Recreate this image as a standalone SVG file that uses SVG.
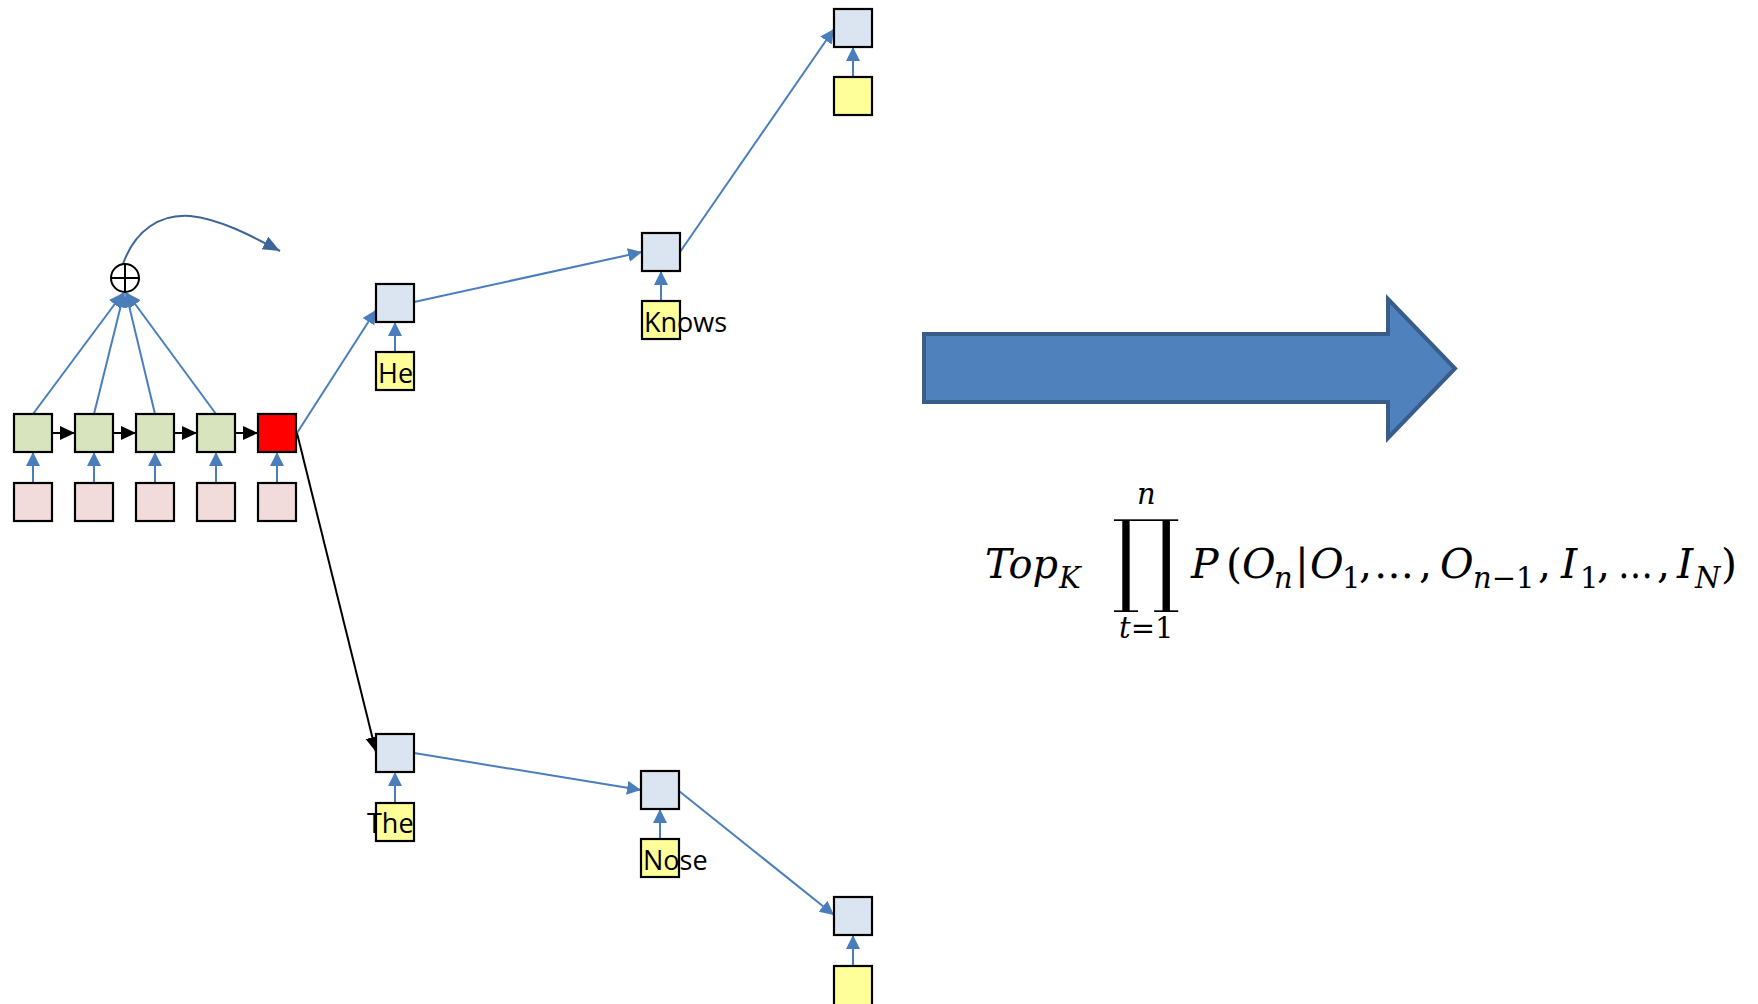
<svg xmlns="http://www.w3.org/2000/svg" width="1758" height="1004" viewBox="0 0 1758 1004">
<defs>
<style>
.box{stroke:#000;stroke-width:2.2}
.enc{fill:#d7e4bd}
.emb{fill:#f2dcdb}
.dec{fill:#dbe5f1}
.inp{fill:#ffff99}
.red{fill:#ff0000}
.bl{stroke:#4a7ebb;stroke-width:2;fill:none}
.bk{stroke:#000;stroke-width:2;fill:none}
.lbl{font-family:"Open Sans","Liberation Sans",sans-serif;font-size:27px;fill:#000}
.m{font-family:"DejaVu Serif","Liberation Serif",serif;font-size:41px;fill:#000}
.s{font-family:"DejaVu Serif","Liberation Serif",serif;font-size:29px;fill:#000}
.i{font-style:italic}
</style>
<marker id="ab" markerUnits="userSpaceOnUse" markerWidth="16" markerHeight="16" refX="14" refY="7" orient="auto"><path d="M0,0 L14,7 L0,14 z" fill="#4a7ebb"/></marker>
<marker id="ak" markerUnits="userSpaceOnUse" markerWidth="16" markerHeight="16" refX="15" refY="7" orient="auto"><path d="M0,0 L15,7 L0,14 z" fill="#000"/></marker>
<marker id="ad" markerUnits="userSpaceOnUse" markerWidth="18" markerHeight="16" refX="17" refY="7" orient="auto"><path d="M0,0 L17,7 L0,14 z" fill="#3b6696"/></marker>
</defs>
<rect width="1758" height="1004" fill="#fff"/>

<g id="connectors">
<line class="bl" x1="33" y1="483" x2="33" y2="452" marker-end="url(#ab)"/>
<line class="bl" x1="94" y1="483" x2="94" y2="452" marker-end="url(#ab)"/>
<line class="bl" x1="155" y1="483" x2="155" y2="452" marker-end="url(#ab)"/>
<line class="bl" x1="216" y1="483" x2="216" y2="452" marker-end="url(#ab)"/>
<line class="bl" x1="277" y1="483" x2="277" y2="452" marker-end="url(#ab)"/>
<line class="bk" x1="52" y1="433" x2="75" y2="433" marker-end="url(#ak)"/>
<line class="bk" x1="113" y1="433" x2="136" y2="433" marker-end="url(#ak)"/>
<line class="bk" x1="174" y1="433" x2="197" y2="433" marker-end="url(#ak)"/>
<line class="bk" x1="235" y1="433" x2="258" y2="433" marker-end="url(#ak)"/>
<line class="bl" x1="33" y1="414" x2="123" y2="293" marker-end="url(#ab)"/>
<line class="bl" x1="94" y1="414" x2="124" y2="293" marker-end="url(#ab)"/>
<line class="bl" x1="155" y1="414" x2="126" y2="293" marker-end="url(#ab)"/>
<line class="bl" x1="216" y1="414" x2="127" y2="293" marker-end="url(#ab)"/>
<path d="M123,264 C135,230 160,214 190,216 C220,219 252,236 280,251" stroke="#3b6696" stroke-width="2" fill="none" marker-end="url(#ad)"/>
<line class="bl" x1="297" y1="433" x2="376" y2="310" marker-end="url(#ab)"/>
<line class="bk" x1="297" y1="433" x2="376" y2="752" marker-end="url(#ak)"/>
<line class="bl" x1="414" y1="302" x2="642" y2="252" marker-end="url(#ab)"/>
<line class="bl" x1="680" y1="252" x2="834" y2="29" marker-end="url(#ab)"/>
<line class="bl" x1="414" y1="753" x2="641" y2="790" marker-end="url(#ab)"/>
<line class="bl" x1="679" y1="791" x2="834" y2="915" marker-end="url(#ab)"/>
<line class="bl" x1="395" y1="352" x2="395" y2="322" marker-end="url(#ab)"/>
<line class="bl" x1="661" y1="301" x2="661" y2="271" marker-end="url(#ab)"/>
<line class="bl" x1="853" y1="77" x2="853" y2="47" marker-end="url(#ab)"/>
<line class="bl" x1="395" y1="803" x2="395" y2="772" marker-end="url(#ab)"/>
<line class="bl" x1="660" y1="839" x2="660" y2="809" marker-end="url(#ab)"/>
<line class="bl" x1="853" y1="966" x2="853" y2="935" marker-end="url(#ab)"/>
</g>

<g id="enc1"><rect class="box enc" x="14" y="414" width="38" height="38"/></g>
<g id="enc2"><rect class="box enc" x="75" y="414" width="38" height="38"/></g>
<g id="enc3"><rect class="box enc" x="136" y="414" width="38" height="38"/></g>
<g id="enc4"><rect class="box enc" x="197" y="414" width="38" height="38"/></g>
<g id="enc5"><rect class="box red" x="258" y="414" width="38" height="38"/></g>
<g id="emb1"><rect class="box emb" x="14" y="483" width="38" height="38"/></g>
<g id="emb2"><rect class="box emb" x="75" y="483" width="38" height="38"/></g>
<g id="emb3"><rect class="box emb" x="136" y="483" width="38" height="38"/></g>
<g id="emb4"><rect class="box emb" x="197" y="483" width="38" height="38"/></g>
<g id="emb5"><rect class="box emb" x="258" y="483" width="38" height="38"/></g>

<g id="sum">
<circle cx="125" cy="278" r="14" fill="#fff" stroke="#000" stroke-width="2"/>
<line x1="111" y1="278" x2="139" y2="278" stroke="#000" stroke-width="2"/>
<line x1="125" y1="264" x2="125" y2="292" stroke="#000" stroke-width="2"/>
</g>

<g id="he"><rect class="box dec" x="376" y="284" width="38" height="38"/></g>
<g id="he-in"><rect class="box inp" x="376" y="352" width="38" height="38"/><text class="lbl" x="378" y="383">He</text></g>
<g id="knows"><rect class="box dec" x="642" y="233" width="38" height="38"/></g>
<g id="knows-in"><rect class="box inp" x="642" y="301" width="38" height="38"/><text class="lbl" x="644" y="332">Knows</text></g>
<g id="top3"><rect class="box dec" x="834" y="9" width="38" height="38"/></g>
<g id="top3-in"><rect class="box inp" x="834" y="77" width="38" height="38"/></g>

<g id="the"><rect class="box dec" x="376" y="734" width="38" height="38"/></g>
<g id="the-in"><rect class="box inp" x="376" y="803" width="38" height="38"/><text class="lbl" x="367" y="833">The</text></g>
<g id="nose"><rect class="box dec" x="641" y="771" width="38" height="38"/></g>
<g id="nose-in"><rect class="box inp" x="641" y="839" width="38" height="38"/><text class="lbl" x="643" y="870">Nose</text></g>
<g id="bot3"><rect class="box dec" x="834" y="897" width="38" height="38"/></g>
<g id="bot3-in"><rect class="box inp" x="834" y="966" width="38" height="40"/></g>

<g id="big-arrow">
<path d="M924,334 L1388,334 L1388,299 L1455,368.5 L1388,438 L1388,402 L924,402 Z" fill="#4f81bd" stroke="#385d8a" stroke-width="4" stroke-linejoin="miter"/>
</g>

<g id="formula">
<text class="m i" x="985" y="578" textLength="73" lengthAdjust="spacingAndGlyphs">Top</text>
<text class="s i" x="1059" y="588">K</text>
<text x="0" y="0" text-anchor="middle" font-family="DejaVu Serif, serif" font-size="101" fill="#000" stroke="#fff" stroke-width="2" transform="translate(1146,593) scale(0.88,1.03)">∏</text>
<text class="s i" x="1137" y="504">n</text>
<text class="s" x="1119" y="638"><tspan class="i">t</tspan>=1</text>
<text class="m i" x="1191" y="578">P</text>
<text class="m" x="1226" y="578">(</text>
<text class="m i" x="1242" y="578">O</text>
<text class="s i" x="1274" y="588">n</text>
<text class="m" x="1295" y="578">|</text>
<text class="m i" x="1310" y="578">O</text>
<text class="s" x="1342" y="588">1</text>
<text class="m" x="1359" y="578">,</text>
<text class="m" x="1374" y="578" textLength="40" lengthAdjust="spacingAndGlyphs">…</text>
<text class="m" x="1419" y="578">,</text>
<text class="m i" x="1440" y="578">O</text>
<text class="s" x="1473" y="588"><tspan class="i">n</tspan>−1</text>
<text class="m" x="1538" y="578">,</text>
<text class="m i" x="1561" y="578">I</text>
<text class="s" x="1580" y="588">1</text>
<text class="m" x="1597" y="578">,</text>
<text class="m" x="1618" y="578" textLength="35" lengthAdjust="spacingAndGlyphs">…</text>
<text class="m" x="1657" y="578">,</text>
<text class="m i" x="1677" y="578">I</text>
<text class="s i" x="1695" y="588">N</text>
<text class="m" x="1721" y="578">)</text>
</g>
</svg>
